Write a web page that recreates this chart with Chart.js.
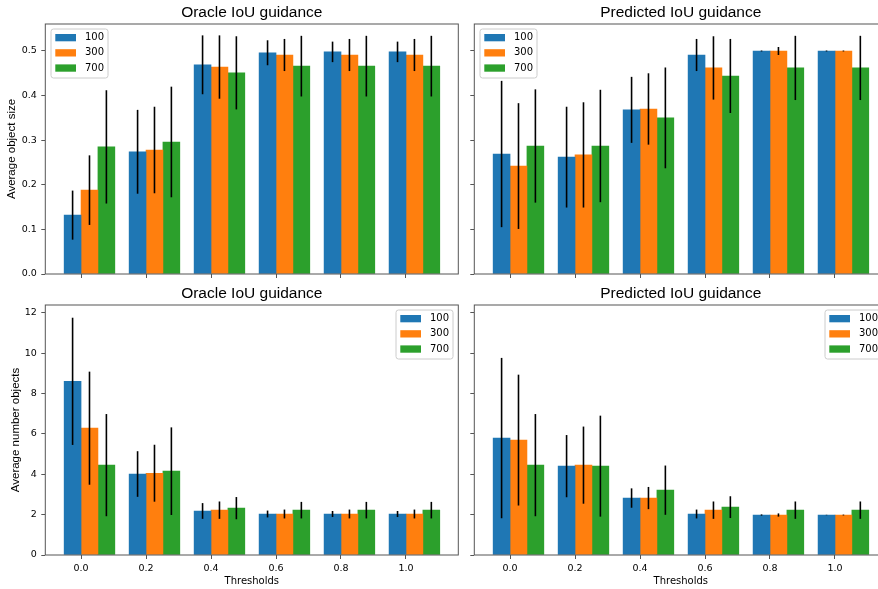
<!DOCTYPE html>
<html>
<head>
<meta charset="utf-8">
<script src="https://cdn.jsdelivr.net/npm/chart.js@4"></script>
<style>
  html, body { margin: 0; padding: 0; background: #fff; overflow: hidden; width: 878px; height: 589px; }
  canvas { position: absolute; }
</style>
</head>
<body>
<canvas id="oracle-size" width="460" height="290" style="left:0;top:0"></canvas>
<canvas id="pred-size" width="430" height="290" style="left:462px;top:0"></canvas>
<canvas id="oracle-count" width="460" height="311" style="left:0;top:278px"></canvas>
<canvas id="pred-count" width="430" height="311" style="left:462px;top:278px"></canvas>
<script>
const thresholds = ['0.0', '0.2', '0.4', '0.6', '0.8', '1.0'];
const sizes = ['100', '300', '700'];
const colors = ['#1f77b4', '#ff7f0e', '#2ca02c'];

// rows: 100, 300, 700 — columns follow thresholds
const oracleSizeMean = [
  [0.132, 0.274, 0.469, 0.496, 0.498, 0.498],
  [0.188, 0.278, 0.464, 0.491, 0.491, 0.491],
  [0.285, 0.296, 0.451, 0.466, 0.466, 0.466]
];
const oracleSizeStd = [
  [0.055, 0.094, 0.066, 0.028, 0.023, 0.023],
  [0.078, 0.097, 0.071, 0.036, 0.036, 0.036],
  [0.127, 0.124, 0.082, 0.068, 0.068, 0.068]
];
const predSizeMean = [
  [0.269, 0.262, 0.368, 0.491, 0.500, 0.500],
  [0.242, 0.267, 0.370, 0.462, 0.500, 0.500],
  [0.287, 0.287, 0.350, 0.444, 0.462, 0.462]
];
const predSizeStd = [
  [0.164, 0.113, 0.074, 0.036, 0.001, 0.001],
  [0.141, 0.118, 0.080, 0.071, 0.009, 0.001],
  [0.127, 0.126, 0.113, 0.083, 0.072, 0.072]
];
const oracleCountMean = [
  [8.60, 4.01, 2.18, 2.03, 2.03, 2.03],
  [6.28, 4.05, 2.22, 2.03, 2.03, 2.03],
  [4.45, 4.15, 2.32, 2.22, 2.22, 2.22]
];
const oracleCountStd = [
  [3.15, 1.13, 0.39, 0.17, 0.15, 0.15],
  [2.80, 1.41, 0.43, 0.22, 0.22, 0.22],
  [2.53, 2.17, 0.55, 0.41, 0.41, 0.41]
];
const predCountMean = [
  [5.79, 4.40, 2.82, 2.03, 1.98, 1.98],
  [5.69, 4.45, 2.82, 2.22, 1.98, 1.98],
  [4.45, 4.40, 3.21, 2.37, 2.22, 2.22]
];
const predCountStd = [
  [3.97, 1.54, 0.48, 0.22, 0.03, 0.01],
  [3.24, 1.91, 0.55, 0.43, 0.08, 0.02],
  [2.53, 2.50, 1.22, 0.54, 0.43, 0.43]
];
const sizeTicks = [0, 0.1, 0.2, 0.3, 0.4, 0.5];
const countTicks = [0, 2, 4, 6, 8, 10, 12];

const barWidth = 0.26;
const axisColor = '#555';

Chart.defaults.font.family = '"DejaVu Sans", sans-serif';
Chart.defaults.color = '#000';

// vertical error bars through the y scale
const errorBars = {
  id: 'errorBars',
  afterDatasetsDraw(chart) {
    const { ctx, scales: { y } } = chart;
    ctx.save();
    ctx.strokeStyle = '#000';
    ctx.lineWidth = 1.6;
    chart.data.datasets.forEach((ds, i) => {
      chart.getDatasetMeta(i).data.forEach((bar, j) => {
        const m = ds.data[j].y, s = ds.errors[j];
        ctx.beginPath();
        ctx.moveTo(bar.x, y.getPixelForValue(m - s));
        ctx.lineTo(bar.x, y.getPixelForValue(m + s));
        ctx.stroke();
      });
    });
    ctx.restore();
  }
};

const spines = {
  id: 'spines',
  afterDatasetsDraw(chart) {
    const { ctx, chartArea: a } = chart;
    ctx.save();
    ctx.strokeStyle = axisColor;
    ctx.lineWidth = 1;
    ctx.strokeRect(a.left, a.top, a.right - a.left, a.bottom - a.top);
    ctx.restore();
  }
};

function boxLegend(corner) {
  return {
    id: 'boxLegend',
    afterDraw(chart) {
      const { ctx, chartArea: a } = chart;
      const w = 57, h = 49;
      const bx = corner === 'left' ? a.left + 5.7 : a.right - 5.3 - w;
      const by = a.top + 5;
      ctx.save();
      ctx.beginPath();
      ctx.roundRect(bx, by, w, h, 2.5);
      ctx.fillStyle = 'rgba(255,255,255,0.8)';
      ctx.fill();
      ctx.strokeStyle = '#ccc';
      ctx.lineWidth = 1;
      ctx.stroke();
      ctx.font = '10px "DejaVu Sans"';
      ctx.textBaseline = 'middle';
      chart.data.datasets.forEach((ds, i) => {
        const cy = by + 8.7 + i * 15.2;
        ctx.fillStyle = ds.backgroundColor;
        ctx.fillRect(bx + 4.3, cy - 3.7, 20.7, 7.3);
        ctx.fillStyle = '#000';
        ctx.fillText(ds.label, bx + 34, cy);
      });
      ctx.restore();
    }
  };
}

function makePanel(id, cfg) {
  const datasets = sizes.map((name, k) => ({
    label: name,
    data: thresholds.map((t, i) => ({ x: i + (k - 0.5) * barWidth, y: cfg.mean[k][i] })),
    errors: cfg.std[k],
    backgroundColor: colors[k],
    borderWidth: 0,
    grouped: false,
    categoryPercentage: 1,
    barPercentage: 1
  }));

  return new Chart(document.getElementById(id), {
    type: 'bar',
    data: { datasets },
    options: {
      responsive: false,
      animation: false,
      events: [],
      layout: { padding: cfg.padding },
      plugins: {
        legend: { display: false },
        tooltip: { enabled: false },
        title: {
          display: true,
          text: cfg.title,
          fullSize: false,
          color: '#000',
          font: { family: '"Liberation Sans", Arial, sans-serif', size: 15.5, weight: 'normal' },
          padding: { top: 3.5, bottom: 1.9 }
        }
      },
      scales: {
        x: {
          type: 'linear',
          min: -0.55,
          max: 5.805,
          offset: false,
          border: { display: false },
          grid: { offset: false, drawOnChartArea: false, drawTicks: true, tickLength: 4, color: axisColor, lineWidth: 1 },
          afterBuildTicks: s => { s.ticks = thresholds.map((t, i) => ({ value: i })); },
          afterFit: s => { s.height = cfg.xHeight; },
          ticks: {
            display: cfg.xLabels,
            padding: 3.6,
            maxRotation: 0,
            font: { size: 9.5 },
            color: '#000',
            callback: (v, i) => thresholds[i]
          },
          title: {
            display: cfg.xLabels,
            text: 'Thresholds',
            color: '#000',
            font: { size: 10 },
            padding: { top: 0, bottom: 2 }
          }
        },
        y: {
          min: 0,
          max: cfg.yMax,
          border: { display: false },
          grid: { drawOnChartArea: false, drawTicks: true, tickLength: 4, color: axisColor, lineWidth: 1 },
          afterBuildTicks: s => { s.ticks = cfg.yTicks.map(v => ({ value: v })); },
          afterFit: s => { s.width = cfg.yWidth; },
          ticks: {
            display: !!cfg.yTitle,
            padding: 4.5,
            font: { size: 9.5 },
            color: '#000',
            callback: v => cfg.yFormat(v)
          },
          title: {
            display: !!cfg.yTitle,
            text: cfg.yTitle || '',
            color: '#000',
            font: { family: '"Liberation Sans", Arial, sans-serif', size: 11.5 },
            padding: { top: cfg.yTitlePad, bottom: 0 }
          }
        }
      }
    },
    plugins: [errorBars, spines, boxLegend(cfg.legend)]
  });
}

const sizeFmt = v => v.toFixed(1);
const countFmt = v => String(Math.round(v));

makePanel('oracle-size', {
  title: 'Oracle IoU guidance', mean: oracleSizeMean, std: oracleSizeStd,
  yMax: 0.5605, yTicks: sizeTicks, yFormat: sizeFmt, yTitle: 'Average object size', yTitlePad: 5.4,
  yWidth: 45.3, xHeight: 8, xLabels: false, legend: 'left',
  padding: { top: 0, left: 0, right: 1.7, bottom: 8 }
});
makePanel('pred-size', {
  title: 'Predicted IoU guidance', mean: predSizeMean, std: predSizeStd,
  yMax: 0.5605, yTicks: sizeTicks, yFormat: sizeFmt, yTitle: null, yTitlePad: 0,
  yWidth: 12.3, xHeight: 8, xLabels: false, legend: 'left',
  padding: { top: 0, left: 0, right: 4.7, bottom: 8 }
});
makePanel('oracle-count', {
  title: 'Oracle IoU guidance', mean: oracleCountMean, std: oracleCountStd,
  yMax: 12.38, yTicks: countTicks, yFormat: countFmt, yTitle: 'Average number objects', yTitlePad: 9.1,
  yWidth: 45.3, xHeight: 34, xLabels: true, legend: 'right',
  padding: { top: 3, left: 0, right: 1.7, bottom: 0 }
});
makePanel('pred-count', {
  title: 'Predicted IoU guidance', mean: predCountMean, std: predCountStd,
  yMax: 12.38, yTicks: countTicks, yFormat: countFmt, yTitle: null, yTitlePad: 0,
  yWidth: 12.3, xHeight: 34, xLabels: true, legend: 'right',
  padding: { top: 3, left: 0, right: 4.7, bottom: 0 }
});
</script>
</body>
</html>
